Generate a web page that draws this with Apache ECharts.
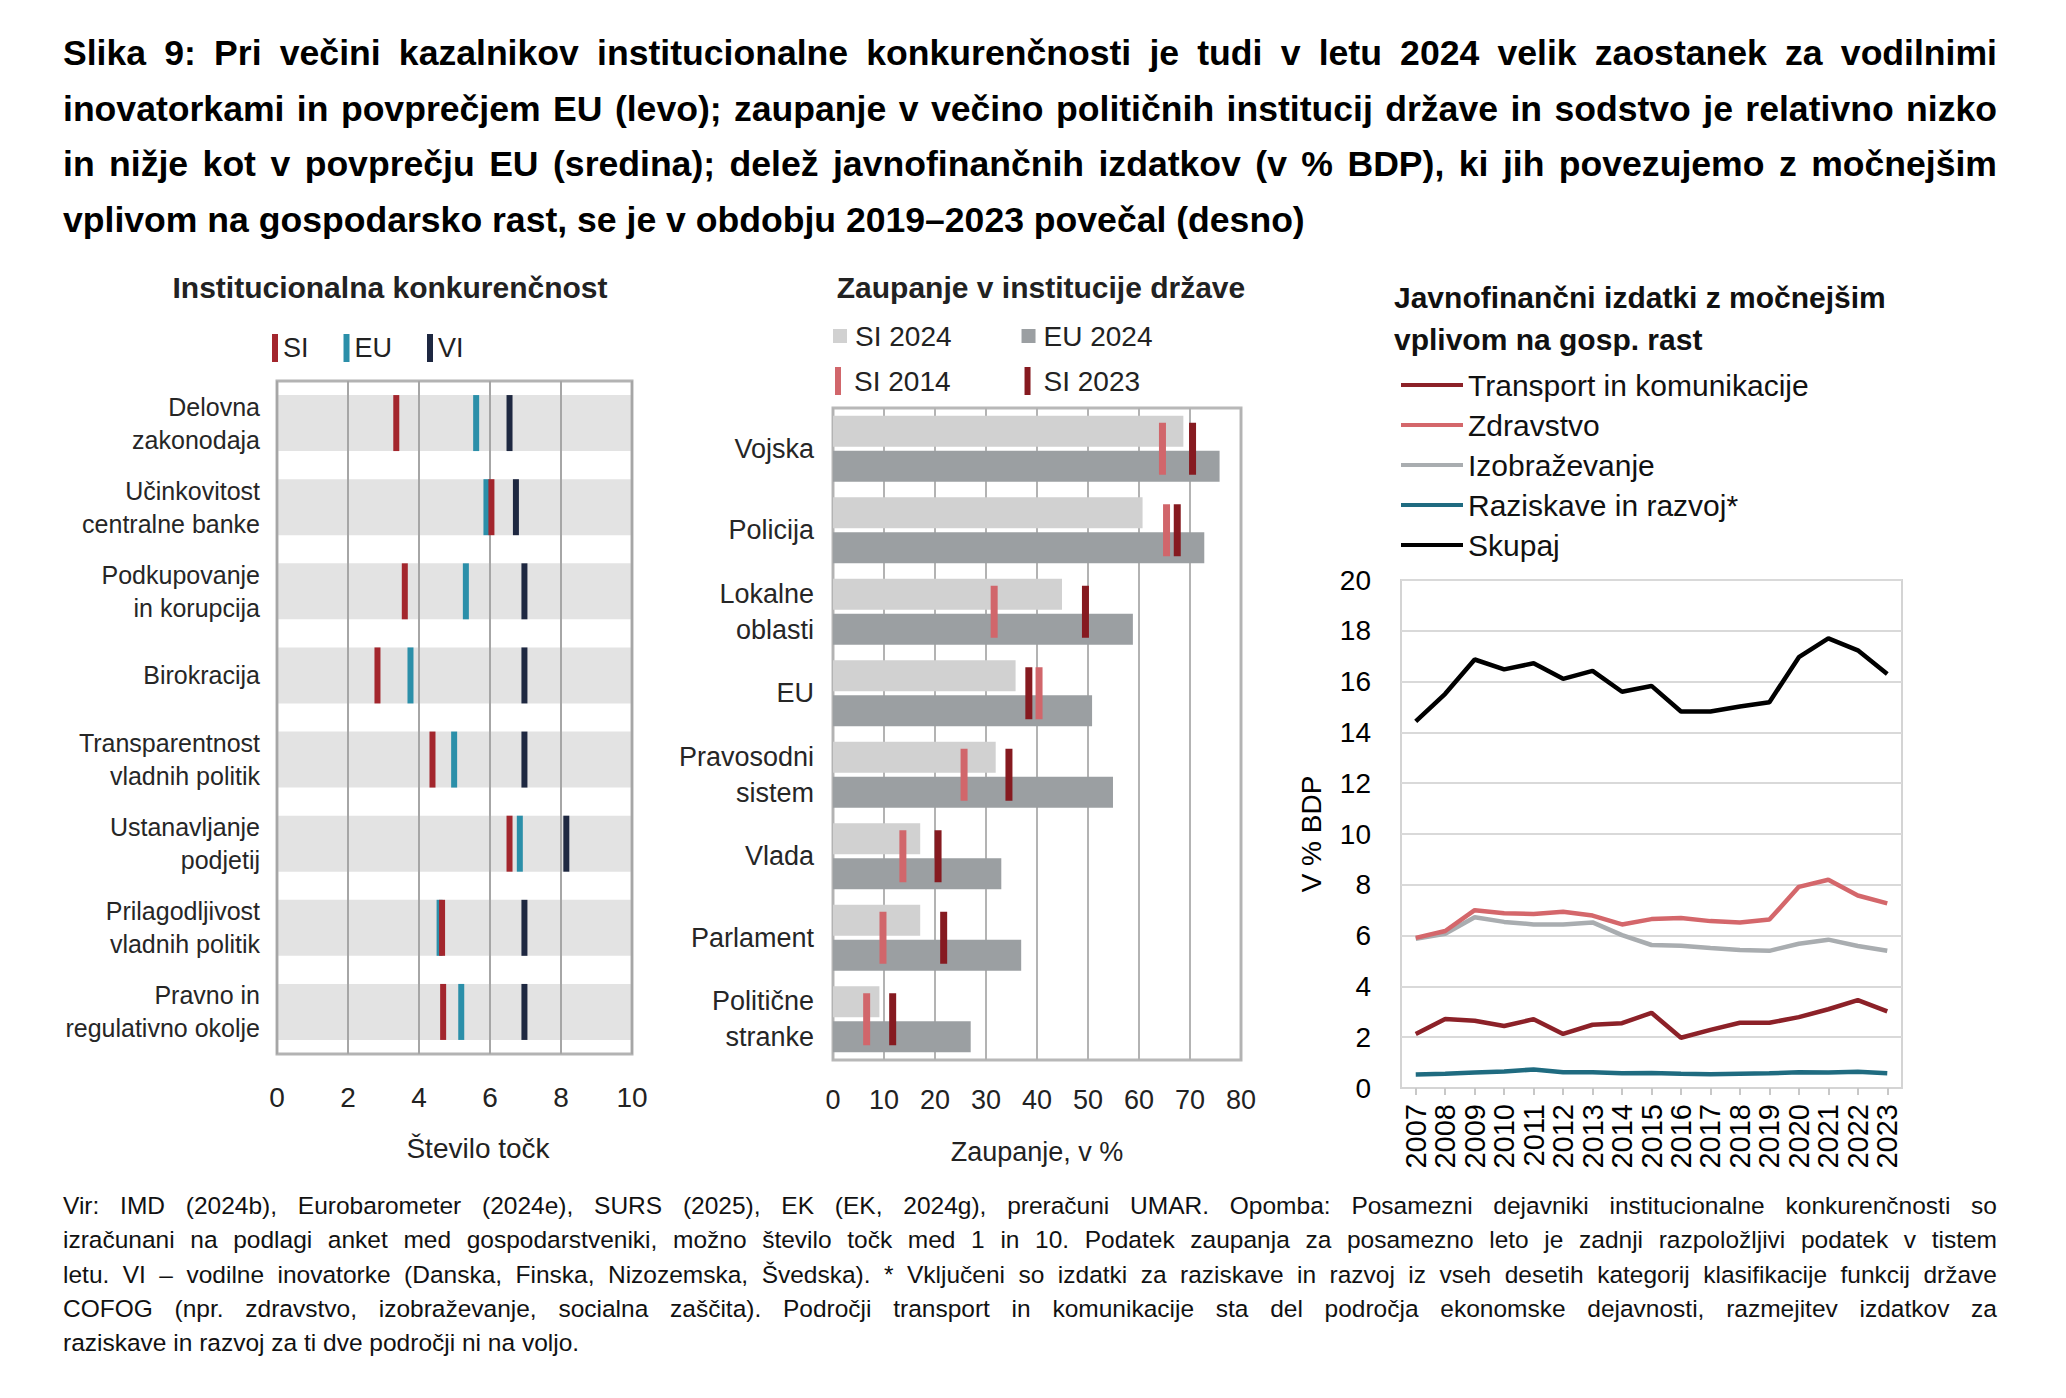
<!DOCTYPE html>
<html>
<head>
<meta charset="utf-8">
<script src="https://cdn.jsdelivr.net/npm/echarts@6/dist/echarts.min.js"></script>
<style>
  html, body { margin: 0; padding: 0; background: #fff; }
  body { width: 2066px; height: 1398px; position: relative; overflow: hidden; font-family: "Liberation Sans", Arial, sans-serif; }
  #chart { position: absolute; left: 0; top: 0; width: 2066px; height: 1398px; }
  .block { position: absolute; left: 63px; width: 1934px; color: #000; }
  .block div { white-space: nowrap; text-align: justify; text-align-last: justify; }
  .block div.last { text-align-last: left; }
  #title { top: 26px; font-weight: bold; font-size: 35.6px; line-height: 55.5px; }
  #foot { top: 1189px; font-size: 24.5px; line-height: 34.3px; color: #111; }
</style>
</head>
<body>
<div id="chart"></div>
<div id="title" class="block">
  <div>Slika 9: Pri večini kazalnikov institucionalne konkurenčnosti je tudi v letu 2024 velik zaostanek za vodilnimi</div>
  <div>inovatorkami in povprečjem EU (levo); zaupanje v večino političnih institucij države in sodstvo je relativno nizko</div>
  <div>in nižje kot v povprečju EU (sredina); delež javnofinančnih izdatkov (v % BDP), ki jih povezujemo z močnejšim</div>
  <div class="last">vplivom na gospodarsko rast, se je v obdobju 2019–2023 povečal (desno)</div>
</div>
<div id="foot" class="block">
  <div>Vir: IMD (2024b), Eurobarometer (2024e), SURS (2025), EK (EK, 2024g), preračuni UMAR. Opomba: Posamezni dejavniki institucionalne konkurenčnosti so</div>
  <div>izračunani na podlagi anket med gospodarstveniki, možno število točk med 1 in 10. Podatek zaupanja za posamezno leto je zadnji razpoložljivi podatek v tistem</div>
  <div>letu. VI – vodilne inovatorke (Danska, Finska, Nizozemska, Švedska). * Vključeni so izdatki za raziskave in razvoj iz vseh desetih kategorij klasifikacije funkcij države</div>
  <div>COFOG (npr. zdravstvo, izobraževanje, socialna zaščita). Področji transport in komunikacije sta del področja ekonomske dejavnosti, razmejitev izdatkov za</div>
  <div class="last">raziskave in razvoj za ti dve področji ni na voljo.</div>
</div>
<script>
// ---------- Left: Institucionalna konkurenčnost ----------
const ikCategories = ['Delovna\nzakonodaja', 'Učinkovitost\ncentralne banke', 'Podkupovanje\nin korupcija', 'Birokracija',
  'Transparentnost\nvladnih politik', 'Ustanavljanje\npodjetij', 'Prilagodljivost\nvladnih politik', 'Pravno in\nregulativno okolje'];
const ikBand = [10, 10, 10, 10, 10, 10, 10, 10];
const ikSI = [3.36, 6.04, 3.60, 2.83, 4.38, 6.55, 4.65, 4.68];
const ikEU = [5.61, 5.90, 5.32, 3.76, 4.99, 6.84, 4.58, 5.19];
const ikVI = [6.55, 6.73, 6.97, 6.97, 6.97, 8.15, 6.97, 6.97];

// ---------- Middle: Zaupanje v institucije države ----------
const ztCategories = ['Vojska', 'Policija', 'Lokalne\noblasti', 'EU', 'Pravosodni\nsistem', 'Vlada', 'Parlament', 'Politične\nstranke'];
const ztSI2024 = [68.7, 60.7, 44.9, 35.8, 31.9, 17.1, 17.1, 9.1];
const ztEU2024 = [75.8, 72.8, 58.8, 50.8, 54.9, 33.0, 36.9, 27.0];
const ztSI2014 = [64.6, 65.4, 31.6, 40.4, 25.7, 13.7, 9.8, 6.6];
const ztSI2023 = [70.5, 67.5, 49.5, 38.4, 34.5, 20.6, 21.7, 11.7];

// ---------- Right: Javnofinančni izdatki ----------
const years = ['2007', '2008', '2009', '2010', '2011', '2012', '2013', '2014', '2015', '2016', '2017', '2018', '2019', '2020', '2021', '2022', '2023'];
const transport = [2.13, 2.72, 2.65, 2.44, 2.71, 2.13, 2.49, 2.55, 2.96, 1.98, 2.29, 2.57, 2.57, 2.79, 3.10, 3.46, 3.02];
const zdravstvo = [5.91, 6.18, 7.00, 6.88, 6.85, 6.94, 6.79, 6.44, 6.65, 6.69, 6.57, 6.52, 6.63, 7.92, 8.20, 7.58, 7.27];
const izobrazevanje = [5.87, 6.07, 6.72, 6.54, 6.44, 6.44, 6.52, 6.02, 5.63, 5.60, 5.51, 5.43, 5.40, 5.68, 5.84, 5.59, 5.40];
const raziskave = [0.53, 0.56, 0.61, 0.65, 0.73, 0.62, 0.62, 0.58, 0.59, 0.56, 0.54, 0.56, 0.58, 0.62, 0.61, 0.64, 0.58];
const skupaj = [14.43, 15.52, 16.87, 16.48, 16.72, 16.11, 16.42, 15.60, 15.83, 14.82, 14.82, 15.02, 15.19, 16.96, 17.70, 17.23, 16.30];

const FONT = '"Liberation Sans", Arial, sans-serif';
const C = {
  si: '#a3262d', eu: '#2b8fa9', vi: '#1e2841', band: '#e3e3e3',
  si24: '#d1d1d1', eu24: '#9b9fa2', si14: '#d1666b', si23: '#861a20',
  tr: '#8c2128', zd: '#d4676b', iz: '#a9adb0', rr: '#1f6b80', sk: '#000000'
};
const pair = arr => arr.map((v, i) => [v, i]);

const chart = echarts.init(document.getElementById('chart'), null, { renderer: 'svg' });
chart.setOption({
  animation: false,
  textStyle: { fontFamily: FONT },
  graphic: [
    { type: 'text', x: 390, y: 287, style: { text: 'Institucionalna konkurenčnost', fontFamily: FONT, fontSize: 30, fontWeight: 'bold', fill: '#222', textAlign: 'center', textVerticalAlign: 'middle' } },
    { type: 'text', x: 1041, y: 287, style: { text: 'Zaupanje v institucije države', fontFamily: FONT, fontSize: 30, fontWeight: 'bold', fill: '#222', textAlign: 'center', textVerticalAlign: 'middle' } },
    { type: 'text', x: 1394, y: 276, style: { text: 'Javnofinančni izdatki z močnejšim\nvplivom na gosp. rast', fontFamily: FONT, fontSize: 30, fontWeight: 'bold', lineHeight: 42, fill: '#111', textAlign: 'left', textVerticalAlign: 'top' } },
    { type: 'text', x: 478, y: 1148, style: { text: 'Število točk', fontFamily: FONT, fontSize: 28, fill: '#222', textAlign: 'center', textVerticalAlign: 'middle' } }
  ],
  legend: [
    { data: ['SI', 'EU', 'VI'], left: 267, top: 329, icon: 'rect', itemWidth: 6, itemHeight: 28, itemGap: 35,
      textStyle: { fontSize: 27, color: '#222', fontFamily: FONT } },
    { data: ['SI 2024', 'EU 2024'], left: 828, top: 317, icon: 'rect', itemWidth: 14, itemHeight: 14, itemGap: 70,
      textStyle: { fontSize: 28, color: '#222', fontFamily: FONT, padding: [0, 0, 0, 3] } },
    { data: ['SI 2014', 'SI 2023'], left: 830, top: 362, icon: 'rect', itemWidth: 6, itemHeight: 28, itemGap: 74,
      textStyle: { fontSize: 28, color: '#222', fontFamily: FONT, padding: [0, 0, 0, 8] } },
    { data: ['Transport in komunikacije', 'Zdravstvo', 'Izobraževanje', 'Raziskave in razvoj*', 'Skupaj'],
      orient: 'vertical', left: 1396, top: 365, icon: 'rect', itemWidth: 62, itemHeight: 4, itemGap: 10,
      textStyle: { fontSize: 30, lineHeight: 30, color: '#111', fontFamily: FONT } }
  ],
  grid: [
    { left: 277, top: 381, width: 355, height: 673, show: true, borderColor: '#b3b3b3', borderWidth: 3, z: 3 },
    { left: 833, top: 408, width: 408, height: 652, show: true, borderColor: '#b8b8b8', borderWidth: 3 },
    { left: 1401, top: 580, width: 501, height: 508, show: true, borderColor: '#d4d4d4', borderWidth: 2 }
  ],
  xAxis: [
    { gridIndex: 0, type: 'value', min: 0, max: 10, interval: 2, z: 3,
      axisLine: { show: false }, axisTick: { show: false },
      splitLine: { show: true, lineStyle: { color: '#a6a6a6', width: 2 } },
      axisLabel: { fontSize: 28, color: '#222', margin: 29 } },
    { gridIndex: 1, type: 'value', min: 0, max: 80, interval: 10,
      axisLine: { show: false }, axisTick: { show: false },
      splitLine: { show: true, lineStyle: { color: '#b3b3b3', width: 2 } },
      axisLabel: { fontSize: 27, color: '#222', margin: 26 },
      name: 'Zaupanje, v %', nameLocation: 'middle', nameGap: 78, nameTextStyle: { fontSize: 27, color: '#222' } },
    { gridIndex: 2, type: 'category', data: years, boundaryGap: true,
      axisLine: { show: true, lineStyle: { color: '#d4d4d4', width: 2 } },
      axisTick: { show: true, alignWithLabel: true, length: 7, lineStyle: { color: '#c8c8c8', width: 2 } },
      axisLabel: { rotate: 90, fontSize: 29, color: '#000', margin: 16, interval: 0 } }
  ],
  yAxis: [
    { gridIndex: 0, type: 'category', data: ikCategories, inverse: true,
      axisLine: { show: false }, axisTick: { show: false },
      axisLabel: { fontSize: 25, lineHeight: 33, color: '#262626', margin: 17, align: 'right' } },
    { gridIndex: 1, type: 'category', data: ztCategories, inverse: true,
      axisLine: { show: false }, axisTick: { show: false },
      axisLabel: { fontSize: 27, lineHeight: 36, color: '#262626', margin: 19, align: 'right' } },
    { gridIndex: 2, type: 'value', min: 0, max: 20, interval: 2,
      axisLine: { show: false }, axisTick: { show: false },
      splitLine: { show: true, lineStyle: { color: '#d9d9d9', width: 2 } },
      axisLabel: { fontSize: 28, color: '#000', margin: 30 },
      name: 'V % BDP', nameLocation: 'middle', nameRotate: 90, nameGap: 76, nameTextStyle: { fontSize: 28, color: '#000' } }
  ],
  series: [
    // left
    { type: 'bar', xAxisIndex: 0, yAxisIndex: 0, data: ikBand, barWidth: 56, itemStyle: { color: C.band }, silent: true, z: 1 },
    { name: 'VI', type: 'scatter', xAxisIndex: 0, yAxisIndex: 0, data: pair(ikVI), symbol: 'rect', symbolSize: [6, 56], itemStyle: { color: C.vi, opacity: 1 }, z: 10 },
    { name: 'EU', type: 'scatter', xAxisIndex: 0, yAxisIndex: 0, data: pair(ikEU), symbol: 'rect', symbolSize: [6, 56], itemStyle: { color: C.eu, opacity: 1 }, z: 11 },
    { name: 'SI', type: 'scatter', xAxisIndex: 0, yAxisIndex: 0, data: pair(ikSI), symbol: 'rect', symbolSize: [6, 56], itemStyle: { color: C.si, opacity: 1 }, z: 12 },
    // middle
    { name: 'SI 2024', type: 'bar', xAxisIndex: 1, yAxisIndex: 1, data: ztSI2024, barWidth: 31, barGap: '13%', itemStyle: { color: C.si24 } },
    { name: 'EU 2024', type: 'bar', xAxisIndex: 1, yAxisIndex: 1, data: ztEU2024, barWidth: 31, barGap: '13%', itemStyle: { color: C.eu24 } },
    { name: 'SI 2014', type: 'scatter', xAxisIndex: 1, yAxisIndex: 1, data: pair(ztSI2014), symbol: 'rect', symbolSize: [7, 52], itemStyle: { color: C.si14, opacity: 1 }, z: 5 },
    { name: 'SI 2023', type: 'scatter', xAxisIndex: 1, yAxisIndex: 1, data: pair(ztSI2023), symbol: 'rect', symbolSize: [7, 52], itemStyle: { color: C.si23, opacity: 1 }, z: 5 },
    // right
    { name: 'Izobraževanje', type: 'line', xAxisIndex: 2, yAxisIndex: 2, data: izobrazevanje, symbol: 'none', lineStyle: { width: 4.5, color: C.iz }, itemStyle: { color: C.iz } },
    { name: 'Zdravstvo', type: 'line', xAxisIndex: 2, yAxisIndex: 2, data: zdravstvo, symbol: 'none', lineStyle: { width: 4.5, color: C.zd }, itemStyle: { color: C.zd } },
    { name: 'Transport in komunikacije', type: 'line', xAxisIndex: 2, yAxisIndex: 2, data: transport, symbol: 'none', lineStyle: { width: 4.5, color: C.tr }, itemStyle: { color: C.tr } },
    { name: 'Raziskave in razvoj*', type: 'line', xAxisIndex: 2, yAxisIndex: 2, data: raziskave, symbol: 'none', lineStyle: { width: 4.5, color: C.rr }, itemStyle: { color: C.rr } },
    { name: 'Skupaj', type: 'line', xAxisIndex: 2, yAxisIndex: 2, data: skupaj, symbol: 'none', lineStyle: { width: 4.5, color: C.sk }, itemStyle: { color: C.sk } }
  ]
});
</script>
</body>
</html>
